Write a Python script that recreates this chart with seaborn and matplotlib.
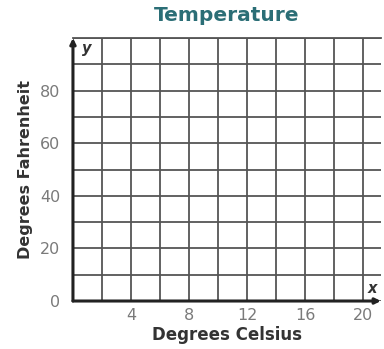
import matplotlib
matplotlib.use("Agg")
import matplotlib.pyplot as plt
import seaborn as sns
from matplotlib.ticker import MultipleLocator

# Chart data (blank coordinate grid)
titulo = "Temperature"
rotulo_x = "Degrees Celsius"
rotulo_y = "Degrees Fahrenheit"
ticks_x = [4, 8, 12, 16, 20]
ticks_y = [0, 20, 40, 60, 80]
passo_grade_x = 2
passo_grade_y = 10
limite_x = (0, 21.2)
limite_y = (0, 100)

COR_GRADE = "#555555"
COR_TITULO = "#2b6e76"
COR_TICKS = "#7a7a7a"
COR_TEXTO = "#333333"

sns.set_style("white")
plt.rcParams['font.family'] = ['DejaVu Sans']

fig = plt.figure(figsize=(3.84, 3.49), dpi=100)
ax = fig.add_axes([0.19, 0.1375, 0.802, 0.7535])

ax.set_xlim(*limite_x)
ax.set_ylim(*limite_y)

ax.xaxis.set_major_locator(plt.FixedLocator(ticks_x))
ax.yaxis.set_major_locator(plt.FixedLocator(ticks_y))
ax.xaxis.set_minor_locator(MultipleLocator(passo_grade_x))
ax.yaxis.set_minor_locator(MultipleLocator(passo_grade_y))
ax.grid(True, which="both", color=COR_GRADE, linewidth=1.3)
ax.set_axisbelow(True)

ax.tick_params(which="both", length=0, labelsize=11.5, labelcolor=COR_TICKS)
ax.tick_params(axis="x", pad=5)
ax.tick_params(axis="y", pad=9)

for lado in ["right", "bottom", "left"]:
    ax.spines[lado].set_visible(False)
ax.spines["top"].set_color(COR_GRADE)
ax.spines["top"].set_linewidth(1.3)

# eixos com setas
ax.annotate("", xy=(0, 1.0), xytext=(0, 0), xycoords="axes fraction",
            arrowprops=dict(arrowstyle="-|>", color="#222222", lw=2.2,
                            mutation_scale=8, shrinkA=0, shrinkB=0))
ax.annotate("", xy=(1.0, 0), xytext=(0, 0), xycoords="axes fraction",
            arrowprops=dict(arrowstyle="-|>", color="#222222", lw=2.2,
                            mutation_scale=8, shrinkA=0, shrinkB=0))

ax.text(0.6, 96, "y", fontsize=10.5, fontstyle="italic", fontweight="bold",
        color=COR_TEXTO, va="center", ha="left")
ax.text(20.6, 4.8, "x", fontsize=10.5, fontstyle="italic", fontweight="bold",
        color=COR_TEXTO, va="center", ha="center")

ax.set_xlabel(rotulo_x, fontsize=12, fontweight="bold", color=COR_TEXTO, labelpad=2)
ax.set_ylabel(rotulo_y, fontsize=11.5, fontweight="bold", color=COR_TEXTO, labelpad=5)
fig.text(0.59, 0.955, titulo, fontsize=14.5, fontweight="bold", color=COR_TITULO,
         ha="center", va="center")

plt.savefig("out.png", dpi=100)
